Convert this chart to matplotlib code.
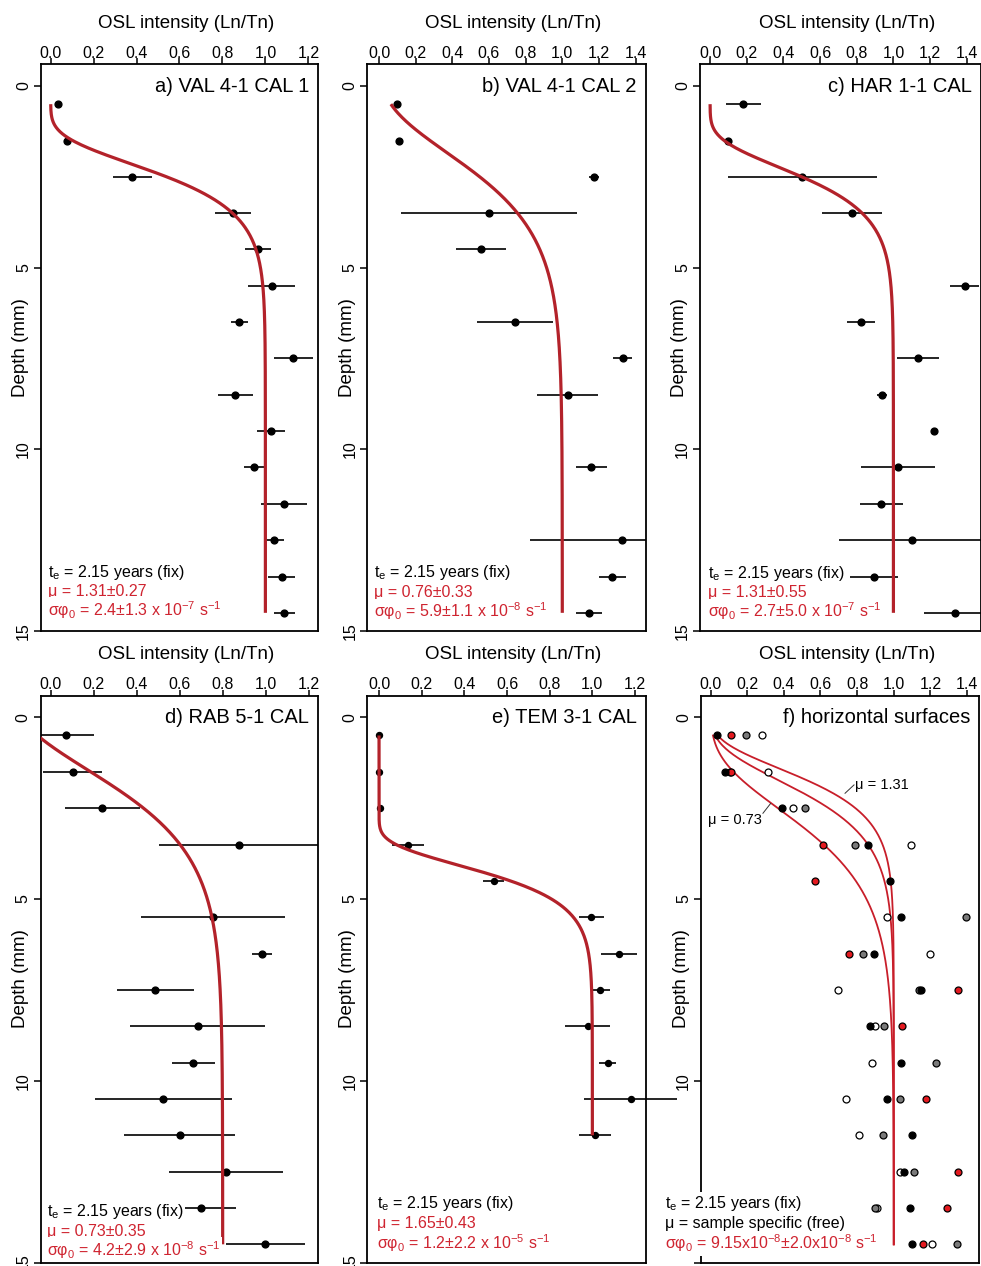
import numpy as np
import matplotlib
matplotlib.use("Agg")
import matplotlib.pyplot as plt
from matplotlib.ticker import FixedLocator

plt.rcParams['font.family'] = ['Liberation Sans', 'DejaVu Sans']
plt.rcParams['mathtext.fontset'] = 'custom'
plt.rcParams['mathtext.rm'] = 'Liberation Sans'
plt.rcParams['mathtext.it'] = 'Liberation Sans:italic'
plt.rcParams['mathtext.bf'] = 'Liberation Sans:bold'

# ---------------------------------------------------------------- data
EXPOSURE_YEARS = 2.15
SECONDS_PER_YEAR = 365.25 * 24 * 3600

depth_a = [0.5, 1.5, 2.5, 3.5, 4.5, 5.5, 6.5, 7.5, 8.5, 9.5, 10.5, 11.5, 12.5, 13.5, 14.5]
osl_a = [0.035, 0.075, 0.38, 0.85, 0.967, 1.03, 0.878, 1.13, 0.86, 1.026, 0.948, 1.085, 1.04, 1.076, 1.088]
err_a = [0.0, 0.015, 0.09, 0.085, 0.06, 0.11, 0.04, 0.09, 0.08, 0.065, 0.047, 0.107, 0.045, 0.063, 0.05]

depth_b = [0.5, 1.5, 2.5, 3.5, 4.5, 6.5, 7.5, 8.5, 10.5, 12.5, 13.5, 14.5]
osl_b = [0.097, 0.111, 1.173, 0.600, 0.555, 0.742, 1.330, 1.029, 1.157, 1.327, 1.273, 1.147]
err_b = [0.0, 0.021, 0.026, 0.48, 0.137, 0.209, 0.052, 0.165, 0.085, 0.503, 0.072, 0.071]

depth_c = [0.5, 1.5, 2.5, 3.5, 5.5, 6.5, 7.5, 8.5, 9.5, 10.5, 11.5, 12.5, 13.5, 14.5]
osl_c = [0.182, 0.1, 0.504, 0.774, 1.388, 0.823, 1.133, 0.938, 1.22, 1.025, 0.933, 1.104, 0.893, 1.335]
err_c = [0.094, 0.0, 0.405, 0.166, 0.08, 0.078, 0.115, 0.025, 0.0, 0.2, 0.118, 0.4, 0.132, 0.17]

depth_d = [0.5, 1.5, 2.5, 3.5, 5.5, 6.5, 7.5, 8.5, 9.5, 10.5, 11.5, 12.5, 13.5, 14.5]
osl_d = [0.071, 0.102, 0.24, 0.874, 0.755, 0.983, 0.486, 0.683, 0.664, 0.524, 0.599, 0.817, 0.699, 0.998]
err_d = [0.13, 0.137, 0.175, 0.37, 0.337, 0.045, 0.18, 0.316, 0.1, 0.32, 0.26, 0.265, 0.163, 0.183]

depth_e = [0.5, 1.5, 2.5, 3.5, 4.5, 5.5, 6.5, 7.5, 8.5, 9.5, 10.5, 11.5]
osl_e = [0.0, 0.0, 0.003, 0.135, 0.537, 0.995, 1.124, 1.038, 0.978, 1.073, 1.18, 1.01]
err_e = [0.0, 0.0, 0.0, 0.075, 0.048, 0.06, 0.085, 0.045, 0.105, 0.04, 0.218, 0.075]

# horizontal surfaces: four samples on a shared depth grid (nan = no slice)
nan = float('nan')
depth_f = [0.5, 1.5, 2.5, 3.5, 4.5, 5.5, 6.5, 7.5, 8.5, 9.5, 10.5, 11.5, 12.5, 13.5, 14.5]
osl_f_black = [0.036, 0.077, 0.392, 0.862, 0.98, 1.042, 0.893, 1.151, 0.871, 1.042, 0.962, 1.098, 1.056, 1.087, 1.102]
osl_f_red = [0.109, 0.112, nan, 0.614, 0.57, nan, 0.756, 1.348, 1.047, nan, 1.175, nan, 1.348, 1.29, 1.162]
osl_f_grey = [0.191, 0.105, 0.515, 0.787, nan, 1.393, 0.832, 1.138, 0.947, 1.23, 1.035, 0.942, 1.111, 0.896, 1.344]
osl_f_white = [0.282, 0.315, 0.452, 1.093, nan, 0.965, 1.197, 0.698, 0.896, 0.88, 0.738, 0.81, 1.035, 0.91, 1.211]

# fitted model parameters
mu_fit = [1.31, 0.76, 1.31, 0.73, 1.65]
sigphi_fit = [2.4e-7, 5.9e-8, 2.7e-7, 4.2e-8, 1.2e-5]
baseline_fit = [0.0, 0.0, 0.0, -0.2, 0.0]
curve_depth_end = [14.5, 14.5, 14.5, 14.5, 11.5]
mu_f = [1.31, 1.06, 0.73]
sigphi_f = 9.15e-8

titles = ["a) VAL 4-1 CAL 1", "b) VAL 4-1 CAL 2", "c) HAR 1-1 CAL",
          "d) RAB 5-1 CAL", "e) TEM 3-1 CAL", "f) horizontal surfaces"]
mu_text = ["1.31±0.27", "0.76±0.33", "1.31±0.55", "0.73±0.35", "1.65±0.43"]
sigphi_text = [("2.4±1.3", "-7"), ("5.9±1.1", "-8"), ("2.7±5.0", "-7"),
               ("4.2±2.9", "-8"), ("1.2±2.2", "-5")]

# ---------------------------------------------------------------- style
W, H = 981, 1266
CURVE_RED = '#B3222A'
TEXT_RED = '#CF2430'
THIN_RED = '#C81E2A'


def box(l, r, t, b):
    return [l / W, 1 - b / H, (r - l) / W, (b - t) / H]


panel_boxes = [box(41, 318, 64.2, 631), box(367.3, 645.7, 64.2, 631), box(700, 980.5, 64.2, 631),
               box(40.7, 318.3, 695.5, 1262.5), box(367.3, 645.7, 695.5, 1262.5), box(701, 979, 695.5, 1262.5)]
xlims = [(-0.045, 1.245), (-0.064, 1.455), (-0.055, 1.475),
         (-0.047, 1.245), (-0.055, 1.25), (-0.052, 1.465)]
xticks = [[0, 0.2, 0.4, 0.6, 0.8, 1.0, 1.2], [0, 0.2, 0.4, 0.6, 0.8, 1.0, 1.2, 1.4],
          [0, 0.2, 0.4, 0.6, 0.8, 1.0, 1.2, 1.4], [0, 0.2, 0.4, 0.6, 0.8, 1.0, 1.2],
          [0, 0.2, 0.4, 0.6, 0.8, 1.0, 1.2], [0, 0.2, 0.4, 0.6, 0.8, 1.0, 1.2, 1.4]]
legend_x = [-0.013, -0.027, -0.013, -0.019, -0.011, -0.248]
legend_depths = [(13.4, 13.92, 14.42), (13.4, 13.95, 14.46), (13.42, 13.95, 14.45),
                 (13.6, 14.15, 14.65), (13.37, 13.92, 14.47), (13.37, 13.92, 14.47)]


def profile(depth, mu, sigphi, baseline=0.0):
    t = EXPOSURE_YEARS * SECONDS_PER_YEAR
    return np.exp(-sigphi * t * np.exp(-mu * depth)) + baseline


def style_axes(ax, i):
    ax.set_xlim(*xlims[i])
    ax.set_ylim(15, -0.6)
    ax.xaxis.tick_top()
    ax.xaxis.set_label_position('top')
    ax.xaxis.set_major_locator(FixedLocator(xticks[i]))
    ax.set_xticklabels([f"{v:.1f}" for v in xticks[i]])
    ax.yaxis.set_major_locator(FixedLocator([0, 5, 10, 15]))
    ylabels = ['0', '5', '10', '15'] if i != 5 else ['0', '5', '10', '']
    ax.set_yticklabels(ylabels, rotation=90, va='center')
    ax.tick_params(axis='x', direction='out', length=4.3, width=1.1, pad=-2.0, labelsize=11.5)
    ax.tick_params(axis='y', direction='out', length=5.0, width=1.1, pad=2.2, labelsize=11.5)
    for sp in ax.spines.values():
        sp.set_linewidth(1.3)
    ax.set_xlabel("OSL intensity (Ln/Tn)", fontsize=13.5, va='center')
    width_px = panel_boxes[i][2] * W
    ax.xaxis.set_label_coords(0.5 + 7 / width_px, 1 + 41 / 567)
    ax.set_ylabel("Depth (mm)", fontsize=13.5, va='center')
    ax.yaxis.set_label_coords(-20 / width_px, 0.5)
    ax.text(1 - 9 / width_px, 0, titles[i], transform=ax.get_yaxis_transform(),
            ha='right', va='center', fontsize=14.5)


def legend_lines(ax, i, lines):
    for (txt, col), d in zip(lines, legend_depths[i]):
        ax.text(legend_x[i], d, txt, color=col, fontsize=11.5, ha='left', va='center',
                zorder=8, clip_on=False,
                bbox=dict(facecolor='white', edgecolor='none', pad=1.2))


fig = plt.figure(figsize=(W / 100, H / 100), dpi=100)

single = [(depth_a, osl_a, err_a), (depth_b, osl_b, err_b), (depth_c, osl_c, err_c),
          (depth_d, osl_d, err_d), (depth_e, osl_e, err_e)]

for i, (dep, val, err) in enumerate(single):
    ax = fig.add_axes(panel_boxes[i])
    style_axes(ax, i)
    dep = np.asarray(dep)
    val = np.asarray(val)
    err = np.asarray(err)
    clip = (i != 4)
    ax.hlines(dep, val - err, val + err, colors='black', linewidth=1.2, zorder=2, clip_on=clip)
    ms = 4.3 if i == 4 else 4.9
    ax.plot(val, dep, 'o', color='black', ms=ms, zorder=3, clip_on=False)
    zz = np.linspace(0.5, curve_depth_end[i], 500)
    ax.plot(profile(zz, mu_fit[i], sigphi_fit[i], baseline_fit[i]), zz,
            color=CURVE_RED, linewidth=2.3, zorder=4, solid_capstyle='butt')
    sp_val, sp_exp = sigphi_text[i]
    legend_lines(ax, i, [
        (r"t$_{\mathregular{e}}$ = 2.15 years (fix)", 'black'),
        ("μ = " + mu_text[i], TEXT_RED),
        (r"σφ$_{\mathregular{0}}$ = " + sp_val + r" x 10$^{\mathregular{" + sp_exp + r"}}$ s$^{\mathregular{-1}}$", TEXT_RED),
    ])

# panel f: all horizontal surfaces with a common sigma-phi0
ax = fig.add_axes(panel_boxes[5])
style_axes(ax, 5)
zz = np.linspace(0.5, 14.5, 500)
for mu in mu_f:
    ax.plot(profile(zz, mu, sigphi_f), zz, color=THIN_RED, linewidth=1.3, zorder=3)

for series, fc in [(osl_f_white, 'white'), (osl_f_grey, '#7a7a7a'),
                   (osl_f_red, '#E3191F'), (osl_f_black, 'black')]:
    ax.plot(series, depth_f, 'o', ms=5.0, mfc=fc, mec='black', mew=0.9, zorder=5, clip_on=False)

ax.plot([0.734, 0.783], [2.09, 1.86], color='#333333', linewidth=0.7, zorder=4)
ax.text(0.788, 1.86, "μ = 1.31", fontsize=10.5, ha='left', va='center', zorder=6)
ax.plot([0.286, 0.328], [2.64, 2.37], color='#333333', linewidth=0.7, zorder=4)
ax.text(-0.012, 2.83, "μ = 0.73", fontsize=10.5, ha='left', va='center', zorder=6)

legend_lines(ax, 5, [
    (r"t$_{\mathregular{e}}$ = 2.15 years (fix)", 'black'),
    ("μ = sample specific (free)", 'black'),
    (r"σφ$_{\mathregular{0}}$ = 9.15x10$^{\mathregular{-8}}$±2.0x10$^{\mathregular{-8}}$ s$^{\mathregular{-1}}$", TEXT_RED),
])

fig.savefig("out.png", dpi=100)
